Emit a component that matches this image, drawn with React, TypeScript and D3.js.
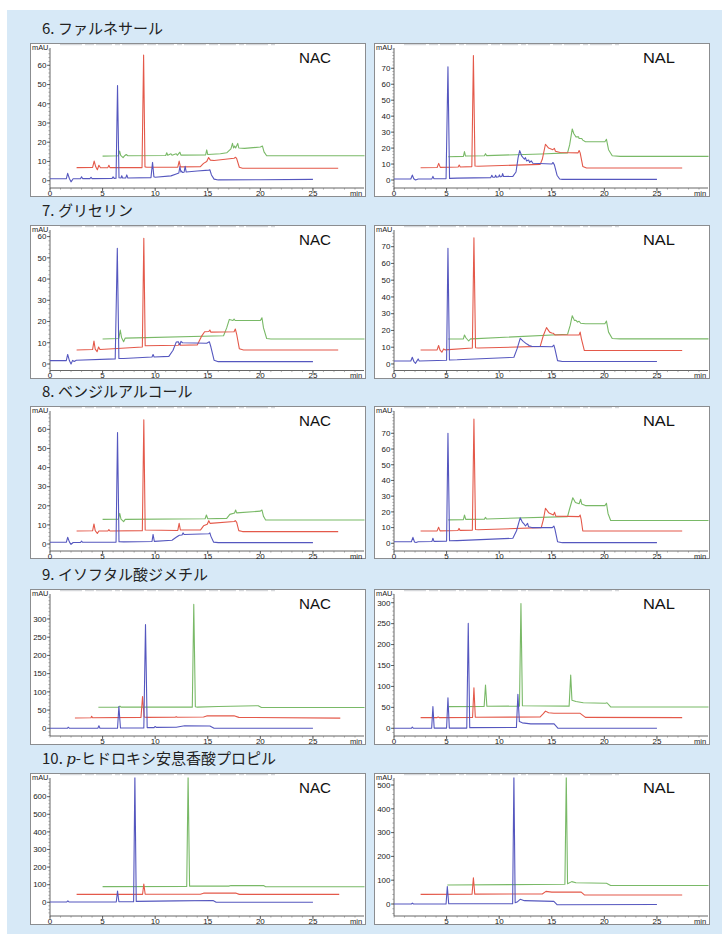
import React from "react";
import * as d3 from "d3";

type Pt = [number, number];

// ---- Section titles ----
const TITLE_NUMS = ["6.", "7.", "8.", "9.", "10."];
const TITLE_ITALIC = ["", "", "", "", "p"];
const TITLE_NAMES = ["ファルネサール", "グリセリン", "ベンジルアルコール", "イソフタル酸ジメチル", "-ヒドロキシ安息香酸プロピル"];
const METHODS = ["NAC", "NAL"];

// ---- Axis ticks ----
const X_TICKS = [0, 5, 10, 15, 20, 25];
const X_TICKS_NO_ZERO = [5, 10, 15, 20, 25];
const Y_TICKS_60 = [0, 10, 20, 30, 40, 50, 60];
const Y_TICKS_70 = [0, 10, 20, 30, 40, 50, 60, 70];
const Y_TICKS_300 = [0, 50, 100, 150, 200, 250, 300];
const Y_TICKS_600 = [0, 100, 200, 300, 400, 500, 600];
const Y_TICKS_500 = [0, 100, 200, 300, 400, 500];

// ---- Chromatograms: [time (min), absorbance (mAU)] ----
// 6. Farnesal
const F6_NAC_BLUE: Pt[] = [[0,1],[1.55,1],[1.68,3.8],[1.85,1],[2.0,-0.6],[2.2,1],[2.9,1],[3.0,2],[3.1,1.1],[3.8,1.1],[3.9,1.8],[4.0,1.1],[5.9,1.2],[6.0,2],[6.1,1.2],[6.28,1.3],[6.42,49.5],[6.56,1.5],[6.75,1.4],[6.82,2.6],[6.9,1.4],[7.2,1.4],[7.3,3],[7.4,1.4],[9.6,1.6],[9.75,9.5],[9.88,2],[10.0,1.8],[11.5,2.5],[12.0,3.5],[12.25,4],[12.35,7.3],[12.45,4.5],[12.5,5],[12.6,4.3],[12.75,4.4],[12.85,7.5],[12.95,4.5],[14,5],[15.1,5.5],[15.2,5.7],[15.35,3],[15.6,0.8],[16,0.4],[20,0.5],[25,0.7]];
const F6_NAC_RED: Pt[] = [[2.53,6.8],[4.05,6.9],[4.2,10.2],[4.35,7.2],[4.5,5.7],[4.65,8],[4.8,6.7],[5.5,6.8],[5.6,8],[5.7,6.8],[8.75,6.8],[8.9,65.3],[9.03,7.2],[9.2,7],[12.15,7],[12.28,10.2],[12.4,7.2],[14.3,7.3],[14.6,9],[14.9,10],[15.08,12],[15.25,10.7],[15.6,10.5],[17.5,11.7],[17.65,12.2],[17.75,11.5],[18.0,7],[18.3,6.5],[27.4,6.5]];
const F6_NAC_GREEN: Pt[] = [[5,12.8],[6.5,13],[6.62,15.4],[6.72,13.2],[6.95,12],[7.1,13],[7.25,13.6],[7.4,13],[11.0,13.1],[11.1,14.5],[11.2,13.2],[11.5,14],[11.6,13.2],[12.0,14],[12.1,13.2],[12.35,14.8],[12.45,13.3],[14.8,13.4],[14.9,16],[15.0,13.6],[16.2,14],[16.8,14.5],[17.2,16.5],[17.35,19.4],[17.45,17],[17.55,18],[17.65,17],[17.85,19.4],[17.95,17],[18.5,16.8],[20.0,17.5],[20.2,18],[20.35,15],[20.6,13],[30,13]];
const F6_NAL_BLUE: Pt[] = [[0,0.6],[1.6,0.6],[1.74,3.1],[1.88,0.8],[2.05,0],[2.3,0.6],[3.6,0.7],[3.7,2.3],[3.8,0.8],[4.95,0.9],[5.13,71],[5.28,1],[6,1.2],[9.2,1.5],[9.3,3],[9.4,1.7],[9.6,1.8],[9.66,3],[9.75,1.8],[9.95,2],[10.02,3.2],[10.1,2],[10.25,2.2],[10.33,4],[10.42,2.2],[11.3,2.3],[11.6,5],[11.8,14],[11.95,18.4],[12.15,15],[12.4,13],[12.5,14],[12.6,12],[12.8,12.5],[12.9,11],[13.05,12],[13.2,10.5],[15.0,10],[15.12,11],[15.25,9.5],[15.5,3],[15.75,0.6],[16,0.4],[25,0.4]];
const F6_NAL_RED: Pt[] = [[2.53,7.7],[4.1,7.8],[4.25,10.4],[4.4,7.9],[6.1,8.2],[6.2,9.4],[6.3,8.2],[7.4,8.4],[7.55,78],[7.7,8.8],[8,8.6],[13.9,9.8],[14.1,13],[14.4,22.4],[14.7,20],[15.1,19],[15.25,19.8],[15.35,18],[15.8,17.2],[17.5,17],[17.6,18.5],[17.7,17],[17.95,8.5],[18.3,7.5],[27.4,7.5]];
const F6_NAL_GREEN: Pt[] = [[5.16,14.6],[6.6,14.8],[6.7,17.8],[6.8,15],[8.6,15.2],[8.7,16.5],[8.8,15.3],[14,16.3],[16.5,17],[16.7,22],[16.95,32],[17.1,29],[17.2,28],[17.3,27],[17.55,27],[17.6,26],[17.85,26],[17.95,25],[18.2,24],[20.05,24],[20.2,25.5],[20.4,19],[20.75,15.2],[21.5,14.8],[30,14.8]];

// 7. Glycerin
const F7_NAC_BLUE: Pt[] = [[0,1.6],[1.55,1.6],[1.68,4.5],[1.85,1.5],[2.0,0],[2.15,1.7],[2.3,1.2],[2.5,1.8],[6.2,2.4],[6.4,54.5],[6.55,2.6],[7,2.6],[9.7,3.3],[9.8,4.5],[9.9,3.3],[11.3,3.6],[11.7,6.5],[12.0,10.3],[12.2,10.5],[12.35,9],[12.45,10.7],[12.6,10],[14.9,9.8],[15.15,10.5],[15.3,8],[15.6,1.8],[16,1.1],[25,1.1]];
const F7_NAC_RED: Pt[] = [[2.53,6.6],[4.05,6.8],[4.18,10.8],[4.3,7],[4.48,5.8],[4.62,8],[4.75,6.8],[6,7.2],[8.78,8],[8.92,59.2],[9.05,8.6],[12.2,8.8],[12.3,9.6],[12.4,8.8],[14.0,9],[14.4,13],[14.7,15.2],[15.1,15.3],[15.2,16],[15.3,15],[17.5,15.2],[17.62,16.5],[17.75,14],[18.0,7.2],[18.4,6.6],[27.4,6.6]];
const F7_NAC_GREEN: Pt[] = [[5,11.8],[6.55,12],[6.68,16],[6.8,12.5],[7.0,10.5],[7.15,12.2],[16.5,13.3],[16.8,17],[17.05,21],[17.4,20.5],[17.5,21.2],[17.6,20.5],[20.0,20.5],[20.15,21.8],[20.3,17],[20.6,12],[21,11.8],[30,11.8]];
const F7_NAL_BLUE: Pt[] = [[0,1.8],[1.6,1.8],[1.74,4],[1.88,1.6],[2.05,0.4],[2.2,2],[2.3,3],[2.4,1.8],[5,2.2],[5.13,69],[5.27,2.4],[6,2.5],[11.4,4],[11.7,9],[12.0,15.3],[12.3,13.5],[12.6,12],[12.75,11.5],[12.85,11],[13.1,10.5],[15.05,10.3],[15.2,11.3],[15.3,9],[15.55,2],[16,1.5],[25,1.5]];
const F7_NAL_RED: Pt[] = [[2.53,8.3],[4.1,8.4],[4.24,11],[4.38,8.2],[4.55,7],[4.72,9],[4.85,8.4],[7.45,9.5],[7.6,75.3],[7.75,9.7],[8,9.5],[13.9,10.5],[14.2,17],[14.5,21.7],[14.8,19],[15.0,18.5],[15.15,18.3],[15.3,17.3],[17.6,17.3],[17.7,19],[17.82,15],[18.1,8],[18.5,8],[27.4,8]];
const F7_NAL_GREEN: Pt[] = [[5.16,14.9],[6.6,15],[6.7,17.3],[6.85,15.5],[7.1,13.7],[7.28,15],[7.4,15],[16.5,17.7],[16.75,23],[16.95,28.8],[17.15,26],[17.3,26],[17.45,25],[17.6,25.5],[17.75,24.3],[18.2,24],[20.05,24],[20.2,25.6],[20.4,19],[20.75,15.2],[21.5,15],[30,15]];

// 8. Benzyl alcohol
const F8_NAC_BLUE: Pt[] = [[0,0.9],[1.55,0.9],[1.68,3.5],[1.85,1],[2.0,-0.2],[2.2,0.8],[2.9,0.8],[3.0,1.5],[3.1,0.9],[6.28,1],[6.42,58.3],[6.56,1.2],[7,1.1],[9.7,1.3],[9.8,5],[9.92,1.4],[11.6,2],[12.0,3.5],[12.3,4.6],[12.55,4.7],[12.65,5.8],[12.75,5],[15.1,5.4],[15.2,5.8],[15.3,4],[15.55,1],[16,0.7],[25,0.7]];
const F8_NAC_RED: Pt[] = [[2.53,6.8],[4.05,6.9],[4.18,10.5],[4.3,7],[4.5,5.5],[4.65,6.8],[5.5,6.8],[5.6,7.5],[5.7,6.8],[8.78,7],[8.92,65],[9.05,7.3],[12.15,7.1],[12.28,10.8],[12.4,7.3],[14.3,7.3],[14.6,9.5],[14.95,10.3],[15.1,12.2],[15.22,10.8],[17.5,11.8],[17.62,12.2],[17.75,11.3],[17.95,7],[18.3,6.5],[27.4,6.5]];
const F8_NAC_GREEN: Pt[] = [[5,12.9],[6.5,13],[6.63,16],[6.75,13],[7.0,11.7],[7.15,12.9],[14.75,13.2],[14.87,15.2],[15.0,13.2],[16.8,13.4],[17.1,15.5],[17.55,16.2],[17.65,17.8],[17.75,16.3],[20.0,17.2],[20.15,17.8],[20.3,14.5],[20.5,12.6],[30,12.6]];
const F8_NAL_BLUE: Pt[] = [[0,1],[1.65,1],[1.8,3.8],[1.95,0.8],[2.1,0.5],[2.3,1],[3.6,1.1],[3.7,3.2],[3.8,1.2],[5,1.4],[5.13,70],[5.28,1.6],[6,1.7],[11.3,3.2],[11.65,8],[12.0,16.3],[12.2,13.5],[12.4,12],[12.5,11],[12.7,12.7],[12.8,10.5],[13.1,10],[15.05,10],[15.2,11],[15.3,9],[15.55,1],[16,0.4],[25,0.4]];
const F8_NAL_RED: Pt[] = [[2.53,7.8],[4.1,7.9],[4.24,10.2],[4.38,7.9],[6.08,8.1],[6.18,9.5],[6.28,8.2],[7.45,8.4],[7.6,79],[7.75,8.8],[8,8.6],[14.0,10],[14.2,15],[14.4,22.3],[14.7,19.5],[15.15,18],[15.27,19.7],[15.38,17.3],[17.6,17],[17.7,18],[17.8,15],[17.95,7.8],[18.3,7.8],[27.4,7.8]];
const F8_NAL_GREEN: Pt[] = [[5.16,14.9],[6.6,15],[6.7,18],[6.82,15.2],[8.6,15.4],[8.7,16.5],[8.8,15.5],[16.5,17],[16.7,22],[17.0,29],[17.25,26],[17.6,25.2],[17.75,28],[17.85,25],[18.2,24],[20.05,24],[20.2,25.5],[20.35,19],[20.6,14.5],[30,14.5]];

// 9. Dimethyl isophthalate
const F9_NAC_BLUE: Pt[] = [[0,0],[1.65,0],[1.74,3],[1.85,0],[4.55,0],[4.65,7],[4.75,0],[6.42,0],[6.55,59.5],[6.7,1],[8.92,1],[9.08,285],[9.24,2],[9.9,2],[10.0,5],[10.1,2.5],[12,3],[12.8,7],[15.2,6.4],[15.6,0],[25,0]];
const F9_NAC_RED: Pt[] = [[2.37,28.4],[3.9,29],[3.96,33],[4.05,29],[8.65,30],[8.8,87],[8.95,31],[9.2,30],[11.9,30.5],[12.0,32],[12.1,30.5],[14.6,31],[14.9,34],[17.5,34.5],[17.95,30],[27.6,28]];
const F9_NAC_GREEN: Pt[] = [[4.6,57.6],[6.55,58],[6.65,61],[6.75,58],[13.53,58],[13.67,340],[13.82,59],[14,58],[16,60],[19.8,62],[20.1,57],[30,57]];
const F9_NAL_BLUE: Pt[] = [[0,0],[1.65,0],[1.74,3],[1.85,0],[3.58,0],[3.7,51.7],[3.82,0.5],[5.0,0.5],[5.13,73],[5.26,0.5],[6.92,0.5],[7.06,250.6],[7.2,1.5],[11.64,2],[11.78,81],[11.92,16],[12.2,13],[13,10.5],[15.1,10.5],[15.2,11],[15.6,0],[25,0]];
const F9_NAL_RED: Pt[] = [[2.53,25.5],[4.1,25.6],[4.2,27],[4.3,25.6],[7.47,26],[7.6,97],[7.73,26.5],[13.9,27],[14.2,35],[14.4,41],[14.7,37],[15.2,36],[17.7,35.8],[18.2,26],[27.4,25.5]];
const F9_NAL_GREEN: Pt[] = [[5.16,51.7],[8.57,52],[8.7,103.4],[8.83,52.5],[11.93,53],[12.07,298],[12.21,54],[16.65,53],[16.8,127],[16.92,67],[17.3,64],[18,61],[20.1,60],[20.25,61],[20.6,51],[30,51]];

// 10. Propyl p-hydroxybenzoate
const F10_NAC_BLUE: Pt[] = [[0,2],[1.6,2],[1.7,8],[1.8,2],[6.3,2],[6.42,64],[6.55,3],[7.95,3],[8.07,720],[8.2,5],[12,8],[15.5,10],[15.8,0],[25,0]];
const F10_NAC_RED: Pt[] = [[2.53,45],[8.8,45],[8.92,104],[9.05,46],[14.3,46],[14.6,52],[17.7,52],[18.0,45],[27.5,45]];
const F10_NAC_GREEN: Pt[] = [[5,89],[13.0,90],[13.13,720],[13.27,92],[17,92],[17.2,95],[20.3,95],[20.5,88],[30,88]];
const F10_NAL_BLUE: Pt[] = [[0,0],[1.65,0],[1.75,4],[1.85,0],[4.95,0],[5.07,73],[5.2,1],[11.28,1],[11.4,540],[11.52,5],[11.7,8],[12.0,19.6],[12.4,14],[15.2,11],[15.5,-3],[25,-2]];
const F10_NAL_RED: Pt[] = [[2.53,40.6],[7.42,41],[7.55,110.6],[7.68,41.5],[14.1,42],[14.45,53],[15,50],[17.8,50],[18.1,38],[27.4,38]];
const F10_NAL_GREEN: Pt[] = [[5.07,80],[16.25,83],[16.38,540],[16.5,85],[16.9,94],[17.3,89],[20.2,87],[20.6,78],[30,78]];

// ---- Panel definitions (row-major: NAC left, NAL right) ----
interface PanelDef {
  yDomain: [number, number];
  yTicks: number[];
  yMinor: number;
  xTicks: number[];
  blue: Pt[];
  red: Pt[];
  green: Pt[];
}

const PANELS: PanelDef[][] = [
  [
    { yDomain: [-3.8, 69.0], yTicks: Y_TICKS_60, yMinor: 2, xTicks: X_TICKS, blue: F6_NAC_BLUE, red: F6_NAC_RED, green: F6_NAC_GREEN },
    { yDomain: [-5.0, 82.7], yTicks: Y_TICKS_70, yMinor: 2, xTicks: X_TICKS, blue: F6_NAL_BLUE, red: F6_NAL_RED, green: F6_NAL_GREEN },
  ],
  [
    { yDomain: [-3.06, 63.1], yTicks: Y_TICKS_60, yMinor: 2, xTicks: X_TICKS, blue: F7_NAC_BLUE, red: F7_NAC_RED, green: F7_NAC_GREEN },
    { yDomain: [-3.9, 79.95], yTicks: Y_TICKS_70, yMinor: 2, xTicks: X_TICKS, blue: F7_NAL_BLUE, red: F7_NAL_RED, green: F7_NAL_GREEN },
  ],
  [
    { yDomain: [-3.66, 69.6], yTicks: Y_TICKS_60, yMinor: 2, xTicks: X_TICKS, blue: F8_NAC_BLUE, red: F8_NAC_RED, green: F8_NAC_GREEN },
    { yDomain: [-4.9, 84.2], yTicks: Y_TICKS_70, yMinor: 2, xTicks: X_TICKS, blue: F8_NAL_BLUE, red: F8_NAL_RED, green: F8_NAL_GREEN },
  ],
  [
    { yDomain: [-21.1, 368.5], yTicks: Y_TICKS_300, yMinor: 10, xTicks: X_TICKS_NO_ZERO, blue: F9_NAC_BLUE, red: F9_NAC_RED, green: F9_NAC_GREEN },
    { yDomain: [-18.4, 320.8], yTicks: Y_TICKS_300, yMinor: 10, xTicks: X_TICKS, blue: F9_NAL_BLUE, red: F9_NAL_RED, green: F9_NAL_GREEN },
  ],
  [
    { yDomain: [-77.8, 706], yTicks: Y_TICKS_600, yMinor: 20, xTicks: X_TICKS, blue: F10_NAC_BLUE, red: F10_NAC_RED, green: F10_NAC_GREEN },
    { yDomain: [-50.4, 529.4], yTicks: Y_TICKS_500, yMinor: 20, xTicks: X_TICKS_NO_ZERO, blue: F10_NAL_BLUE, red: F10_NAL_RED, green: F10_NAL_GREEN },
  ],
];

// ---- Layout ----
const W = 722;
const H = 934;
const BG = "#d7e9f7";
const COL_X = [30, 374];
const BOX_W = 335;
const ROW_TOP = [43, 225, 406, 589, 773];
const ROW_H = [153, 153, 152, 155, 151];
const ROW_AXIS = [145, 145.5, 145, 147, 143];
const PLOT_INSET_L = 20;
const PLOT_INSET_T = 5;
const X_MAX = 29.95;

const COLORS = { blue: "#5557bf", red: "#e4594a", green: "#79b967" };
const TICK_FONT = "'Liberation Sans', Arial, sans-serif";

function Panel({ def, x0, y0, h, axisRel, label, id }: { def: PanelDef; x0: number; y0: number; h: number; axisRel: number; label: string; id: string }) {
  const plotL = x0 + PLOT_INSET_L;
  const plotR = x0 + BOX_W;
  const top = y0 + PLOT_INSET_T;
  const axisY = y0 + axisRel;

  const xs = d3.scaleLinear().domain([0, X_MAX]).range([plotL, plotR]);
  const ys = d3.scaleLinear().domain(def.yDomain).range([axisY, top]);
  const line = d3.line<Pt>().x((d) => xs(d[0])).y((d) => ys(d[1]));

  const [yMin, yMax] = def.yDomain;
  const yMinorTicks = d3.range(Math.ceil(yMin / def.yMinor) * def.yMinor, yMax, def.yMinor);
  const xMinorTicks = d3.range(0, Math.floor(X_MAX) + 1, 1);

  return (
    <g>
      <defs>
        <clipPath id={id}>
          <rect x={plotL} y={top - 0.5} width={plotR - plotL - 0.5} height={axisY - top + 0.5} />
        </clipPath>
      </defs>
      <rect x={x0 + 0.5} y={y0 + 0.5} width={BOX_W} height={h} fill="#ffffff" stroke="#8b8d90" strokeWidth={1} />
      <line x1={x0 + 30} x2={x0 + 245} y1={y0 + 1.6} y2={y0 + 1.6} stroke="#c9ccd0" strokeWidth={1.4} strokeDasharray="22 3 9 2 16 3 5 2" opacity={0.75} />

      {/* y axis */}
      <line x1={plotL} x2={plotL} y1={top} y2={axisY} stroke="#555" strokeWidth={0.9} />
      {yMinorTicks.map((v) => (
        <line key={"ym" + v} x1={plotL - 1.6} x2={plotL} y1={ys(v)} y2={ys(v)} stroke="#777" strokeWidth={0.6} />
      ))}
      {def.yTicks.map((v) => (
        <g key={"y" + v}>
          <line x1={plotL - 3} x2={plotL} y1={ys(v)} y2={ys(v)} stroke="#444" strokeWidth={0.8} />
          <text x={plotL - 3.5} y={ys(v) + 2.8} textAnchor="end" fontSize={8} fontFamily={TICK_FONT} fill="#1a1a1a">{v}</text>
        </g>
      ))}
      <text x={x0 + 2} y={y0 + 7.3} fontSize={7.4} fontFamily={TICK_FONT} fill="#1a1a1a">mAU</text>

      {/* x axis */}
      <line x1={plotL} x2={plotR - 1} y1={axisY} y2={axisY} stroke="#555" strokeWidth={0.9} />
      {xMinorTicks.map((v) => (
        <line key={"xm" + v} x1={xs(v)} x2={xs(v)} y1={axisY} y2={axisY + 1.6} stroke="#777" strokeWidth={0.6} />
      ))}
      {def.xTicks.map((v) => (
        <g key={"x" + v}>
          <line x1={xs(v)} x2={xs(v)} y1={axisY} y2={axisY + 3} stroke="#444" strokeWidth={0.8} />
          <text x={xs(v)} y={axisY + 7.6} textAnchor="middle" fontSize={8} fontFamily={TICK_FONT} fill="#1a1a1a">{v}</text>
        </g>
      ))}
      <text x={plotR - 15} y={axisY + 7.6} fontSize={7.6} fontFamily={TICK_FONT} fill="#1a1a1a">min</text>

      {/* traces */}
      <g clipPath={`url(#${id})`} fill="none" strokeWidth={1.1} strokeLinejoin="round">
        <path d={line(def.green) ?? ""} stroke={COLORS.green} />
        <path d={line(def.red) ?? ""} stroke={COLORS.red} />
        <path d={line(def.blue) ?? ""} stroke={COLORS.blue} />
      </g>

      <text x={x0 + 269} y={y0 + 19.5} fontSize={14.5} fontFamily={TICK_FONT} fill="#111" textLength={32} lengthAdjust="spacingAndGlyphs">{label}</text>
    </g>
  );
}

export default function App() {
  return (
    <div style={{ position: "absolute", left: 0, top: 0 }}>
      <svg width={W} height={H} viewBox={`0 0 ${W} ${H}`} style={{ display: "block" }}>
        <rect x={0} y={0} width={W} height={H} fill="#ffffff" />
        <rect x={7} y={10} width={W - 7} height={H - 10} fill={BG} />
        {PANELS.map((row, r) => (
          <g key={r}>
            <text x={42} y={ROW_TOP[r] - 9} fontSize={15} fontFamily="'Noto Sans CJK JP', 'Noto Sans', sans-serif" fill="#222">
              {TITLE_NUMS[r]}{" "}
              {TITLE_ITALIC[r] ? <tspan fontStyle="italic" fontFamily="'DejaVu Serif', serif">{TITLE_ITALIC[r]}</tspan> : null}
              {TITLE_NAMES[r]}
            </text>
            {row.map((def, c) => (
              <Panel
                key={c}
                id={`plot-${r}-${c}`}
                def={def}
                x0={COL_X[c]}
                y0={ROW_TOP[r]}
                h={ROW_H[r]}
                axisRel={ROW_AXIS[r]}
                label={METHODS[c]}
              />
            ))}
          </g>
        ))}
      </svg>
    </div>
  );
}
